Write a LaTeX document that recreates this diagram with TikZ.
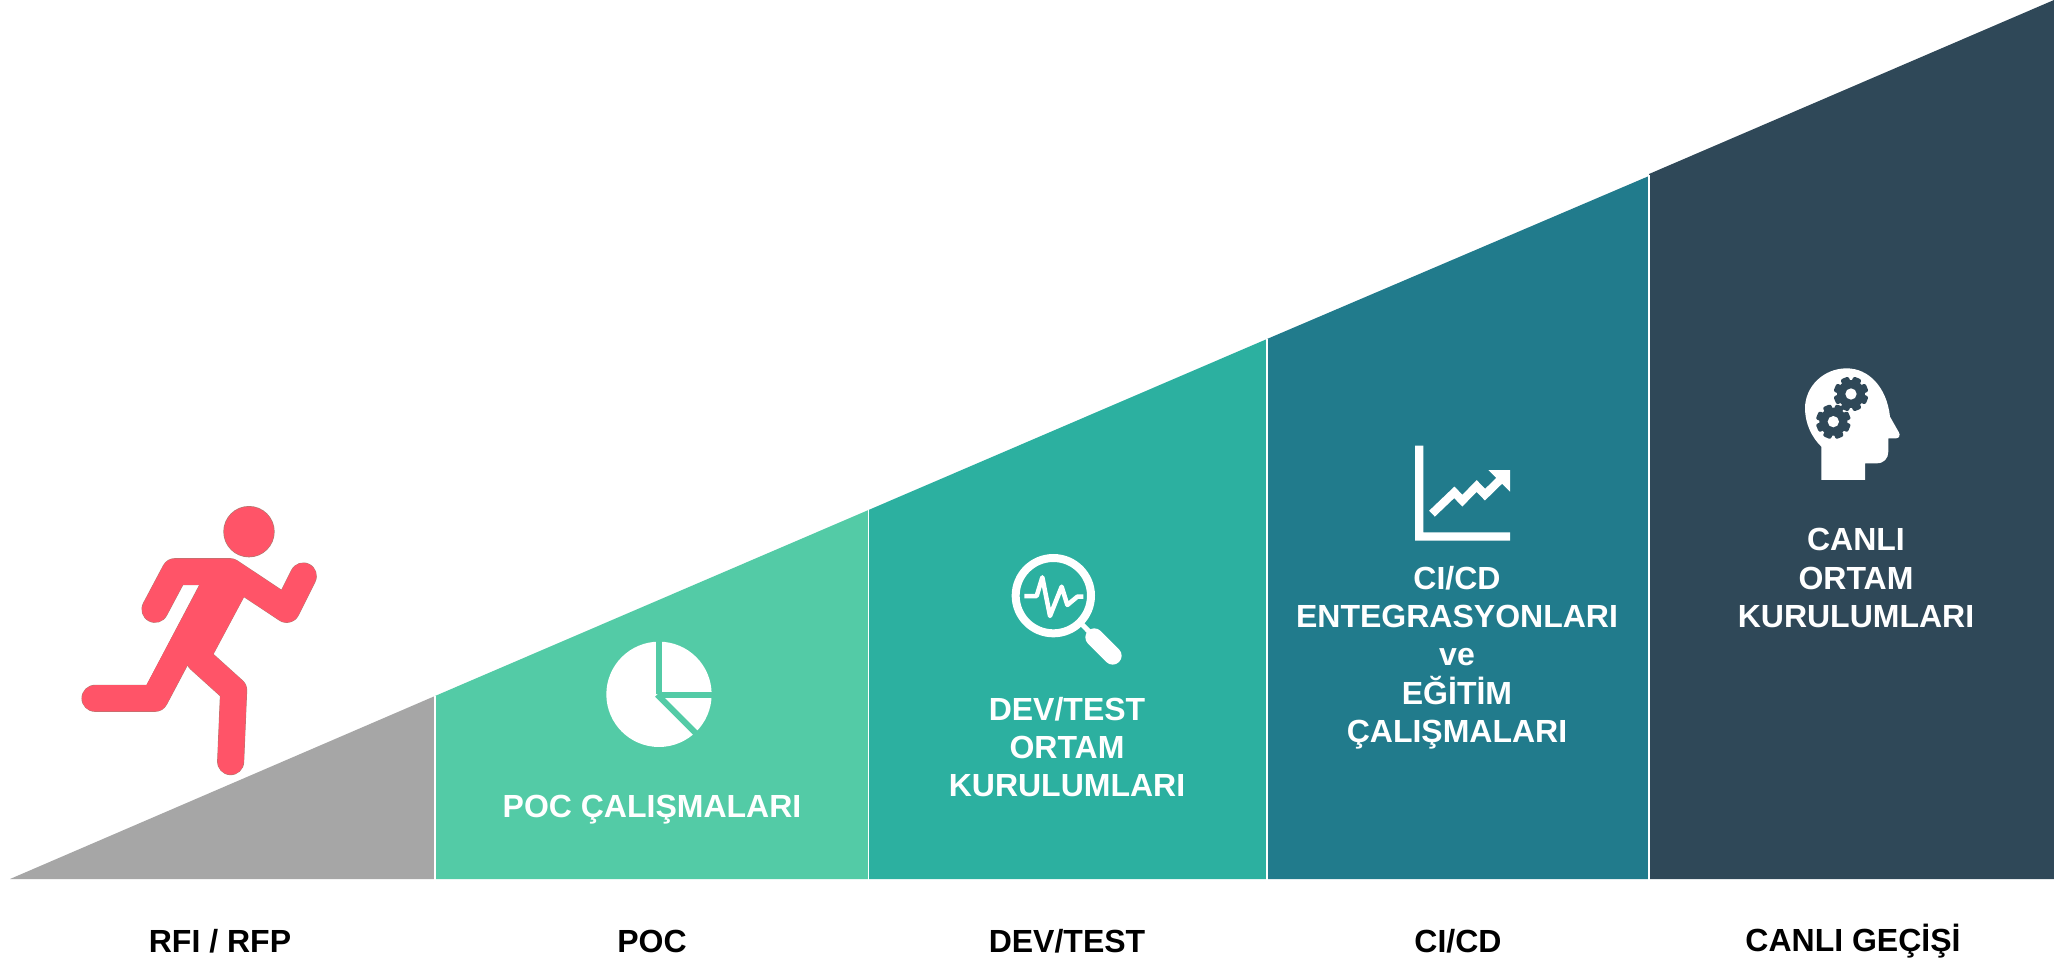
\documentclass[tikz,border=0pt]{standalone}
\usepackage{fontspec}
\setmainfont{Liberation Sans}
\definecolor{cgray}{HTML}{A6A6A6}
\definecolor{cgreen}{HTML}{53CBA6}
\definecolor{cteal}{HTML}{2CB0A0}
\definecolor{cblue}{HTML}{217B8C}
\definecolor{cdark}{HTML}{2F4858}
\definecolor{crun}{HTML}{FF5468}
\definecolor{crunedge}{HTML}{B07A70}
\tikzset{
  lbl/.style={font=\fontsize{32}{38.3}\selectfont\bfseries,text=black,align=center,inner sep=0pt},
  inlbl/.style={font=\fontsize{32}{38.3}\selectfont\bfseries,text=white,align=center,inner sep=0pt},
  wedge/.style={draw=white,line width=1.2pt}
}
\newcommand{\runnerpaths}[2]{%
  \draw[#1,line width=#2,line cap=round,line join=round] (285,388)--(345,275)--(510,275)--(680,388)--(730,288);
  \draw[#1,line width=#2,line cap=round,line join=round] (105,655)--(285,655)--(420,400);
  \draw[#1,line width=#2,line cap=round,line join=round] (418,538)--(521,631)--(512,845);
}
\newcommand{\gear}[2]{%
  \begin{scope}[shift={(#1,#2)}]
    \fill[cdark] (0,0) circle (42);
    \foreach \a in {0,45,...,315}{\fill[cdark,rotate=\a+22.5,rounded corners=2pt] (-13,30) rectangle (13,52);}
    \fill[white] (0,0) circle (17);
  \end{scope}}
\begin{document}
\begin{tikzpicture}[x=1pt,y=-1pt]
\useasboundingbox (0,0) rectangle (2054,961);
\fill[white] (0,0) rectangle (2054,961);
% wedges
\fill[cgray] (10,879)--(435,696)--(435,879)--cycle;
\fill[cgreen] (435,696)--(868.5,510)--(868.5,879)--(435,879)--cycle;
\fill[cteal] (868.5,510)--(1267,339)--(1267,879)--(868.5,879)--cycle;
\fill[cblue] (1267,339)--(1649,176)--(1649,879)--(1267,879)--cycle;
\fill[cdark] (1649,174)--(2054,0)--(2054,879)--(1649,879)--cycle;
\draw[wedge] (435,696)--(435,880);
\draw[wedge] (868.5,510)--(868.5,880);
\draw[wedge] (1267,339)--(1267,880);
\draw[wedge] (1649,175)--(1649,880);
% runner
\begin{scope}[shift={(60,480)},x=0.3333pt,y=-0.3333pt]
  \runnerpaths{crunedge}{27pt}
  \fill[crunedge] (420,310)--(258,618)--(310,675)--(378,557)--(460,524)--(553,350)--(520,255)--(400,255)--cycle;
  \fill[crunedge] (567,155) circle (77);
  \runnerpaths{crun}{26.2pt}
  \fill[crun] (420,313)--(258,618)--(310,670)--(378,555)--(460,522)--(552,350)--(520,260)--(400,260)--cycle;
  \fill[crun] (567,155) circle (75);
\end{scope}
% pie
\begin{scope}[shift={(580,620)},x=0.3333pt,y=-0.3333pt]
  \fill[white] (237,223) circle (158);
  \draw[cgreen,line width=6pt] (237,223)--(237,55);
  \draw[cgreen,line width=6pt] (237,224)--(405,224);
  \draw[cgreen,line width=6pt] (232,224)--(352,344);
\end{scope}
% magnifier
\begin{scope}[shift={(990,540)},x=0.3333pt,y=-0.3333pt]
  \draw[white,line width=8pt] (190,167) circle (113);
  \draw[white,line width=5pt] (275,252)--(312,290);
  \draw[white,line width=18pt,line cap=round] (313,292)--(368,347);
  \draw[white,line width=4.5pt,line join=round] (103,168)--(140,168)--(157,112)--(180,228)--(215,140)--(232,195)--(262,170)--(280,170);
\end{scope}
% chart
\begin{scope}[shift={(1400,430)},x=0.3333pt,y=-0.3333pt]
  \fill[white] (45,47)--(70,47)--(70,307)--(330,307)--(330,332)--(45,332)--cycle;
  \draw[white,line width=8.2pt,line join=miter] (96,251)--(163,187)--(187,212)--(230,168)--(255,194)--(300,150);
  \fill[white] (265,120)--(330,120)--(330,185)--cycle;
\end{scope}
% head
\begin{scope}[shift={(1780,350)},x=0.3333pt,y=-0.3333pt]
  \fill[white] (124,390)--(255,390)--(255,340)--(290,340) .. controls (312,340) and (325,325) .. (325,305)--(325,265)--(348,265) .. controls (358,265) and (362,255) .. (356,246)--(330,200) .. controls (320,110) and (265,55) .. (200,55) .. controls (130,55) and (75,110) .. (75,175) .. controls (75,220) and (95,262) .. (124,290)--cycle;
  \gear{213}{132}
  \gear{160}{215}
\end{scope}
% inner labels
\node[inlbl] (n1) at (652,810) {POC ÇALIŞMALARI};
\node[inlbl] (n2) at (1067,747) {DEV/TEST\\ORTAM\\KURULUMLARI};
\node[inlbl] (n3) at (1457,657.5) {CI/CD\\ENTEGRASYONLARI\\ve\\EĞİTİM\\ÇALIŞMALARI};
\node[inlbl] (n4) at (1856,578) {CANLI\\ORTAM\\KURULUMLARI};
% bottom labels
\node[lbl] (b0) at (220,941) {RFI / RFP};
\node[lbl] (b1) at (652,941) {POC};
\node[lbl] (b2) at (1067,941) {DEV/TEST};
\node[lbl] (b3) at (1458,941) {CI/CD};
\node[lbl] (b4) at (1853,941) {CANLI GEÇİŞİ};
\end{tikzpicture}
\end{document}
